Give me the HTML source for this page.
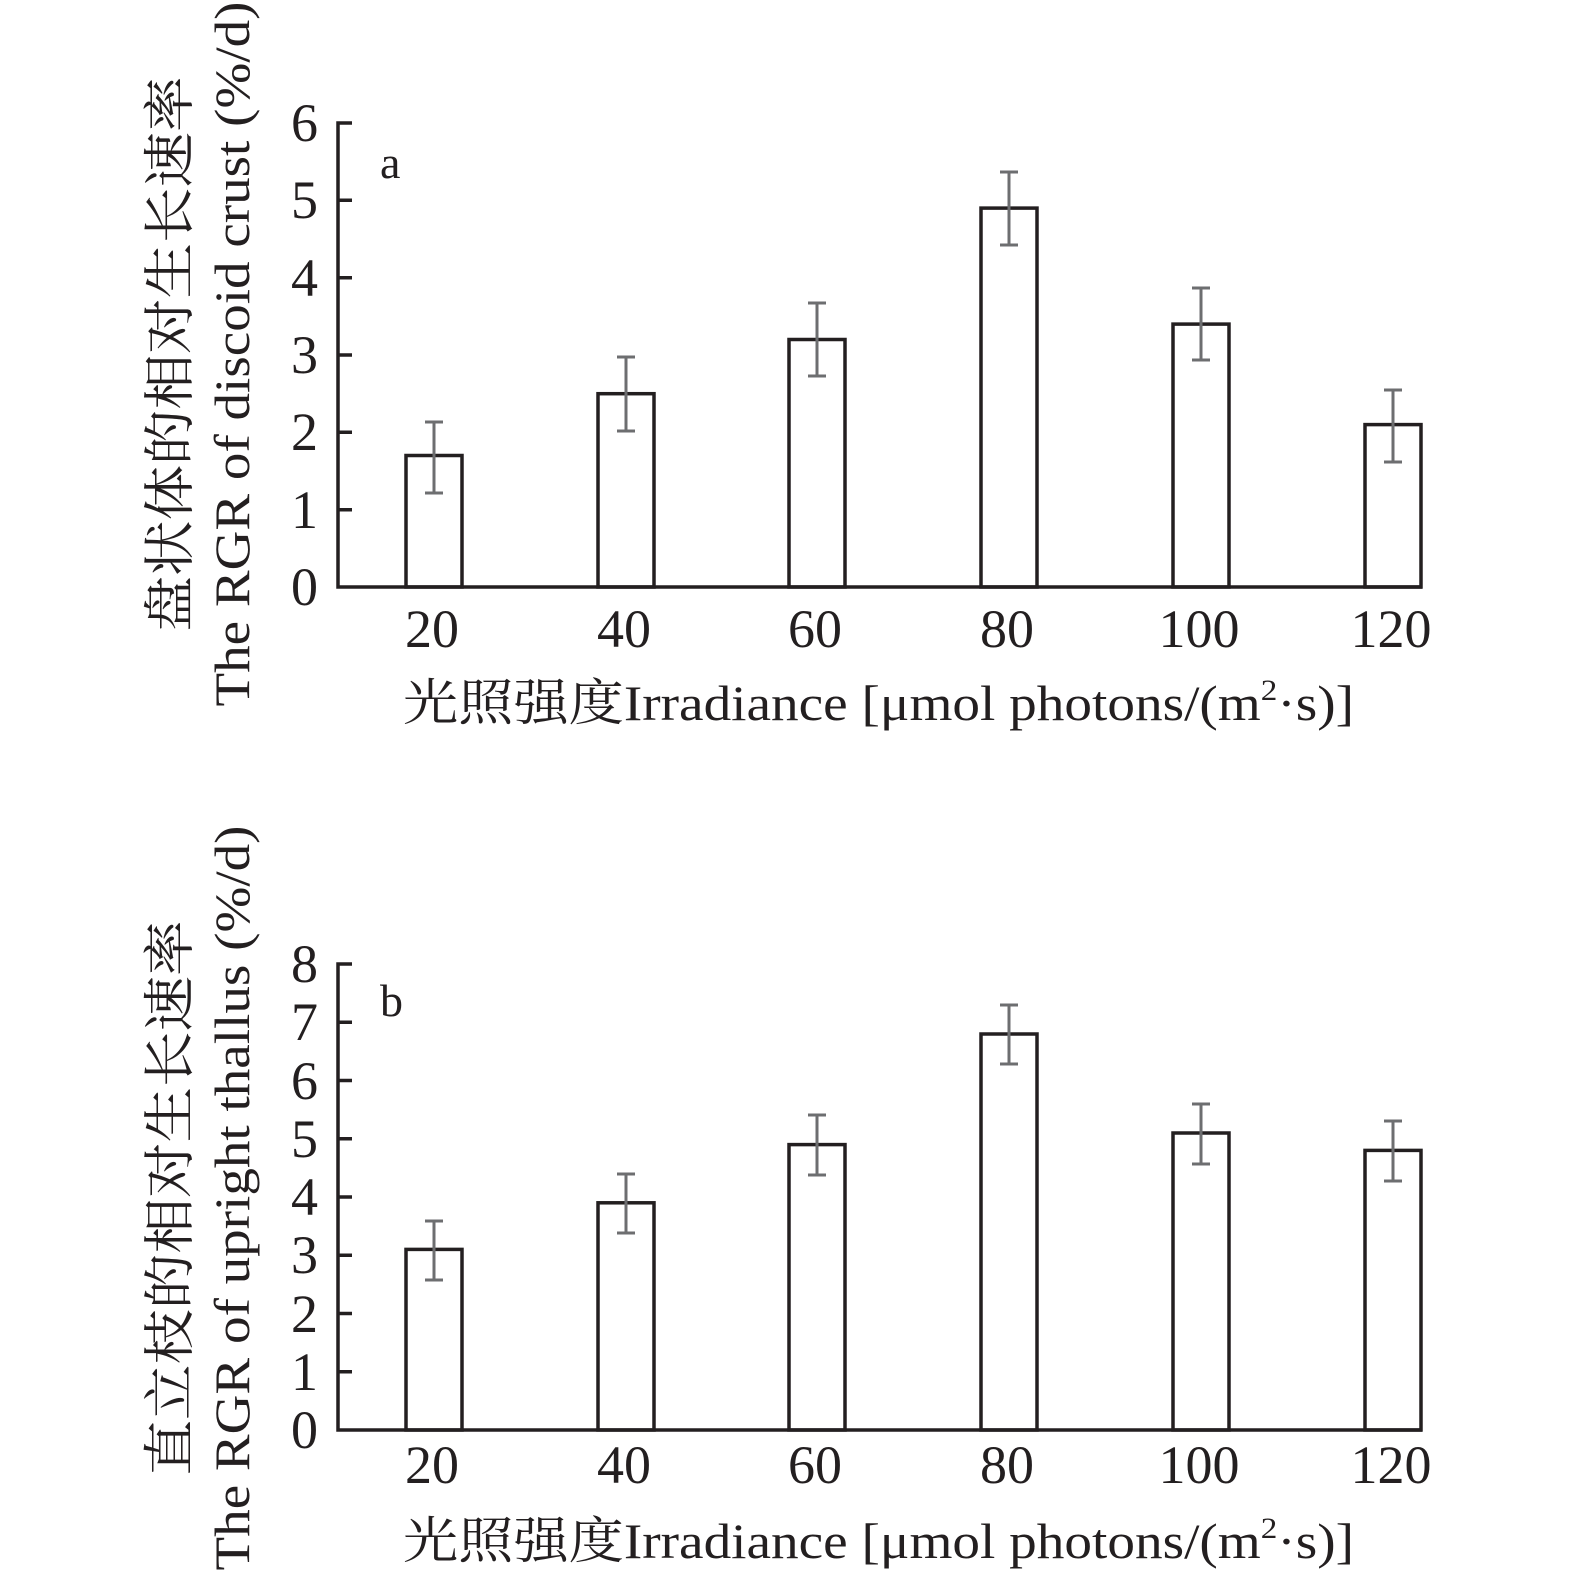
<!DOCTYPE html>
<html><head><meta charset="utf-8"><style>
html,body{margin:0;padding:0;background:#fff;}
svg{display:block;}
text{font-family:"Liberation Serif","Noto Serif CJK SC",serif;fill:#231f20;}
</style></head><body>
<svg width="1575" height="1578" viewBox="0 0 1575 1578" xmlns="http://www.w3.org/2000/svg">
<g stroke="#231f20" stroke-width="3.5" fill="none">
<path d="M352,123 H338 V587 H1422"/>
<path d="M338,200.3 H352 M338,277.7 H352 M338,355 H352 M338,432.3 H352 M338,509.7 H352"/>
<rect x="406" y="455.5" width="56" height="131.5"/>
<rect x="598" y="393.7" width="56" height="193.3"/>
<rect x="789" y="339.5" width="56" height="247.5"/>
<rect x="981" y="208.1" width="56" height="378.9"/>
<rect x="1173" y="324.1" width="56" height="262.9"/>
<rect x="1365" y="424.6" width="56" height="162.4"/>
<path d="M352,964 H338 V1430 H1422"/>
<path d="M338,1022.3 H352 M338,1080.5 H352 M338,1138.8 H352 M338,1197 H352 M338,1255.3 H352 M338,1313.5 H352 M338,1371.8 H352"/>
<rect x="406" y="1249.4" width="56" height="180.6"/>
<rect x="598" y="1202.8" width="56" height="227.2"/>
<rect x="789" y="1144.6" width="56" height="285.4"/>
<rect x="981" y="1034" width="56" height="396"/>
<rect x="1173" y="1133" width="56" height="297"/>
<rect x="1365" y="1150.4" width="56" height="279.6"/>
</g>
<g stroke="#6d6e70" stroke-width="3" fill="none">
<path d="M434,422V493M425,422H443M425,493H443"/>
<path d="M626,357V431M617,357H635M617,431H635"/>
<path d="M817,303V376M808,303H826M808,376H826"/>
<path d="M1009,172V245M1000,172H1018M1000,245H1018"/>
<path d="M1201,288V360M1192,288H1210M1192,360H1210"/>
<path d="M1393,390V462M1384,390H1402M1384,462H1402"/>
<path d="M434,1221V1280M425,1221H443M425,1280H443"/>
<path d="M626,1174V1233M617,1174H635M617,1233H635"/>
<path d="M817,1115V1175M808,1115H826M808,1175H826"/>
<path d="M1009,1005V1064M1000,1005H1018M1000,1064H1018"/>
<path d="M1201,1104V1164M1192,1104H1210M1192,1164H1210"/>
<path d="M1393,1121V1181M1384,1121H1402M1384,1181H1402"/>
</g>
<g font-size="54" text-anchor="end">
<text x="318" y="141">6</text><text x="318" y="218">5</text><text x="318" y="296">4</text><text x="318" y="373">3</text><text x="318" y="450">2</text><text x="318" y="528">1</text><text x="318" y="605">0</text>
<text x="318" y="982">8</text><text x="318" y="1040">7</text><text x="318" y="1099">6</text><text x="318" y="1157">5</text><text x="318" y="1215">4</text><text x="318" y="1273">3</text><text x="318" y="1332">2</text><text x="318" y="1390">1</text><text x="318" y="1448">0</text>
</g>
<g font-size="54" text-anchor="middle">
<text x="432" y="647">20</text><text x="624" y="647">40</text><text x="815" y="647">60</text><text x="1007" y="647">80</text><text x="1199" y="647">100</text><text x="1391" y="647">120</text>
<text x="432" y="1483">20</text><text x="624" y="1483">40</text><text x="815" y="1483">60</text><text x="1007" y="1483">80</text><text x="1199" y="1483">100</text><text x="1391" y="1483">120</text>
</g>
<text x="380" y="178" font-size="46">a</text>
<text x="380" y="1016" font-size="46">b</text>
<text x="403" y="720" font-size="50" textLength="951" lengthAdjust="spacingAndGlyphs">光照强度Irradiance [μmol photons/(m<tspan font-size="30" dy="-20">2</tspan><tspan dy="20">·s)]</tspan></text>
<text x="403" y="1558" font-size="50" textLength="951" lengthAdjust="spacingAndGlyphs">光照强度Irradiance [μmol photons/(m<tspan font-size="30" dy="-20">2</tspan><tspan dy="20">·s)]</tspan></text>
<g text-anchor="middle">
<text transform="translate(249,354) rotate(-90)" font-size="50" textLength="705" lengthAdjust="spacingAndGlyphs">The RGR of discoid crust (%/d)</text>
<text transform="translate(188,354) rotate(-90)" font-size="52" textLength="555" lengthAdjust="spacingAndGlyphs">盘状体的相对生长速率</text>
<text transform="translate(249,1198) rotate(-90)" font-size="50" textLength="745" lengthAdjust="spacingAndGlyphs">The RGR of upright thallus (%/d)</text>
<text transform="translate(188,1198) rotate(-90)" font-size="52" textLength="555" lengthAdjust="spacingAndGlyphs">直立枝的相对生长速率</text>
</g>
</svg>
</body></html>
